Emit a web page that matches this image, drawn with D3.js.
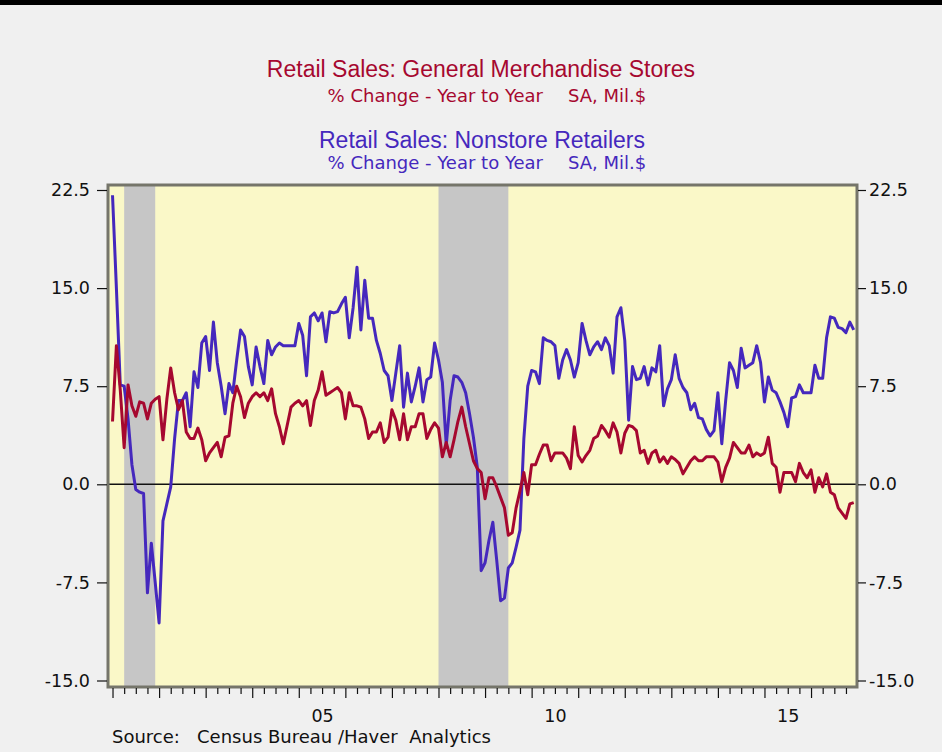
<!DOCTYPE html>
<html>
<head>
<meta charset="utf-8">
<title>Retail Sales: General Merchandise Stores vs Nonstore Retailers</title>
<script src="https://cdnjs.cloudflare.com/ajax/libs/d3/7.8.5/d3.min.js"></script>
<style>
body { margin: 0; background: #F0F0F0; }
.title { font-family: "Liberation Sans", Arial, sans-serif; font-size: 23px; text-anchor: middle; }
.subtitle { font-family: "DejaVu Sans", sans-serif; font-size: 18px; }
.axis text { font-family: "DejaVu Sans", sans-serif; font-size: 17.5px; fill: #111; }
.axis path { display: none; }
.axis line { stroke: #111; stroke-width: 1.2; }
.series { fill: none; stroke-width: 3; stroke-linejoin: round; }
.source { font-family: "DejaVu Sans", sans-serif; font-size: 18px; fill: #111; }
</style>
</head>
<body>
<div id="chart"></div>
<script>
// monthly, Jan 2001 .. Dec 2016, % change year to year
var startYear = 2001;

var generalMerch = [
  4.8, 10.6, 7.2, 2.8, 7.6, 6.0, 5.2, 6.3, 6.2, 5.0, 6.2, 6.5,
  6.7, 3.4, 6.5, 8.9, 7.0, 5.7, 6.4, 4.0, 3.5, 3.5, 4.3, 3.4,
  1.8, 2.4, 2.8, 3.2, 2.1, 3.6, 3.7, 6.2, 7.5, 6.7, 5.1, 6.2,
  6.7, 7.0, 6.7, 7.0, 6.4, 7.3, 5.4, 4.4, 3.1, 4.5, 5.9, 6.2,
  6.4, 6.0, 6.4, 4.5, 6.4, 7.2, 8.6, 6.8, 7.0, 7.2, 7.4, 7.0,
  5.0, 7.0, 6.0, 6.0, 5.9, 5.0, 3.5, 4.0, 4.0, 4.7, 3.2, 3.6,
  5.7, 4.9, 3.4, 5.4, 3.4, 4.4, 4.4, 5.4, 5.4, 3.5, 4.2, 4.7,
  4.3, 2.1, 3.2, 2.1, 3.4, 4.8, 5.9, 4.4, 3.1, 1.8, 1.2, 0.9,
  -1.1, 0.5, 0.5, -0.2, -1.0, -1.8, -3.9, -3.7, -1.8, -0.5, 0.9, -0.8,
  1.5, 1.5, 2.3, 3.0, 3.0, 1.8, 2.4, 2.4, 2.4, 2.0, 1.2, 4.4,
  2.2, 1.7, 2.2, 2.6, 3.5, 3.7, 4.5, 4.1, 3.6, 4.7, 4.0, 2.4,
  3.9, 4.5, 4.4, 4.1, 2.4, 2.6, 1.6, 2.4, 2.6, 1.7, 2.1, 1.6,
  2.1, 1.9, 1.6, 0.8, 1.3, 1.8, 2.1, 1.8, 1.8, 2.1, 2.1, 2.1,
  1.7, 0.2, 1.3, 2.0, 3.2, 2.8, 2.4, 2.4, 3.0, 2.1, 2.4, 2.2,
  2.4, 3.6, 1.6, 1.3, -0.6, 0.9, 0.9, 0.9, 0.2, 1.6, 0.9, 0.5,
  1.1, -0.6, 0.5, -0.2, 0.8, -0.6, -0.8, -1.8, -2.2, -2.6, -1.5, -1.4
];

var nonstore = [
  22.1, 15.0, 7.6, 7.5, 5.0, 1.5, -0.4, -0.6, -0.7, -8.3, -4.5, -7.5,
  -10.6, -2.8, -1.5, -0.2, 3.5, 6.4, 6.4, 7.0, 4.4, 8.6, 7.4, 10.8,
  11.3, 8.7, 12.4, 9.3, 7.5, 5.4, 7.7, 7.0, 9.5, 11.8, 11.3, 9.0,
  7.6, 10.5, 9.0, 7.7, 11.0, 9.9, 10.5, 10.8, 10.6, 10.6, 10.6, 10.6,
  12.3, 11.4, 8.3, 12.8, 13.1, 12.5, 13.1, 10.9, 13.2, 13.1, 13.2, 13.8,
  14.3, 11.2, 13.5, 16.6, 11.8, 15.6, 12.7, 12.7, 11.0, 10.0, 8.7, 8.3,
  6.4, 8.5, 10.6, 5.9, 8.5, 6.3, 7.5, 8.9, 6.3, 8.0, 8.2, 10.8,
  9.5, 7.8, 3.0, 6.4, 8.3, 8.2, 7.8, 7.0, 5.4, 3.6, 1.3, -6.6,
  -6.0, -4.3, -2.9, -5.8, -8.9, -8.7, -6.4, -6.0, -4.8, -3.5, 3.5, 7.5,
  8.7, 8.6, 7.7, 11.2, 11.0, 10.9, 10.6, 8.1, 9.5, 10.3, 9.5, 8.2,
  9.3, 12.3, 11.0, 9.9, 10.5, 10.9, 10.3, 11.2, 10.6, 8.5, 12.8, 13.5,
  11.0, 4.9, 9.0, 8.0, 8.1, 9.0, 7.6, 8.9, 8.6, 10.6, 6.0, 7.3,
  8.0, 9.9, 8.1, 7.4, 7.0, 5.7, 6.2, 5.1, 5.0, 4.2, 3.7, 4.1,
  7.0, 3.1, 6.4, 9.3, 8.7, 7.4, 10.4, 8.9, 9.1, 9.3, 10.6, 9.3,
  6.3, 8.2, 7.2, 7.0, 6.3, 5.5, 4.4, 6.6, 6.7, 7.6, 7.0, 7.0,
  7.0, 9.1, 8.1, 8.1, 11.2, 12.8, 12.7, 12.0, 11.9, 11.6, 12.4, 11.8
];

// recession periods, as fractional years
var recessions = [[2001.25, 2001.917], [2008.0, 2009.5]];

var yTicks = [-15, -7.5, 0, 7.5, 15, 22.5];
var xLabelYears = [2005, 2010, 2015];

var redColor = '#A6082F';
var blueColor = '#4528BD';

var svg = d3.select('#chart')
  .append('svg')
  .attr('width', 942)
  .attr('height', 752);

svg.append('rect')
  .attr('width', 942).attr('height', 752)
  .attr('fill', '#F0F0F0');
svg.append('rect')
  .attr('width', 942).attr('height', 5)
  .attr('fill', '#000');

// titles
svg.append('text').attr('class', 'title')
  .attr('x', 481).attr('y', 77)
  .attr('fill', redColor)
  .text('Retail Sales: General Merchandise Stores');
svg.append('text').attr('class', 'subtitle')
  .attr('x', 543).attr('y', 102).attr('text-anchor', 'end')
  .attr('fill', redColor)
  .text('% Change - Year to Year');
svg.append('text').attr('class', 'subtitle')
  .attr('x', 568).attr('y', 102)
  .attr('fill', redColor)
  .text('SA, Mil.$');

svg.append('text').attr('class', 'title')
  .attr('x', 482).attr('y', 148)
  .attr('fill', blueColor)
  .text('Retail Sales: Nonstore Retailers');
svg.append('text').attr('class', 'subtitle')
  .attr('x', 543).attr('y', 169).attr('text-anchor', 'end')
  .attr('fill', blueColor)
  .text('% Change - Year to Year');
svg.append('text').attr('class', 'subtitle')
  .attr('x', 568).attr('y', 169)
  .attr('fill', blueColor)
  .text('SA, Mil.$');

// plot box (window.top is reserved, hence the names)
var plotLeft = 108, plotRight = 857, plotTop = 185, plotBottom = 687;

var x = d3.scaleLinear()
  .domain([2000.903, 2016.987])
  .range([plotLeft, plotRight]);

var y = d3.scaleLinear()
  .domain([-15, 22.5])
  .range([680.5, 190]);

var g = svg.append('g');

g.append('rect')
  .attr('x', plotLeft).attr('y', plotTop)
  .attr('width', plotRight - plotLeft).attr('height', plotBottom - plotTop)
  .attr('fill', '#FAF8C8');

g.selectAll('.recession')
  .data(recessions)
  .enter().append('rect')
  .attr('class', 'recession')
  .attr('x', d => x(d[0]))
  .attr('y', plotTop)
  .attr('width', d => x(d[1]) - x(d[0]))
  .attr('height', plotBottom - plotTop)
  .attr('fill', '#C6C6C6');

g.append('line')
  .attr('x1', plotLeft).attr('x2', plotRight)
  .attr('y1', y(0)).attr('y2', y(0))
  .attr('stroke', '#111').attr('stroke-width', 1.6);

var line = d3.line()
  .x((d, i) => x(startYear + i / 12))
  .y(d => y(d));

g.append('path')
  .datum(nonstore)
  .attr('class', 'series')
  .attr('stroke', blueColor)
  .attr('d', line);

g.append('path')
  .datum(generalMerch)
  .attr('class', 'series')
  .attr('stroke', redColor)
  .attr('d', line);

// frame
g.append('rect')
  .attr('x', plotLeft).attr('y', plotTop)
  .attr('width', plotRight - plotLeft).attr('height', plotBottom - plotTop)
  .attr('fill', 'none')
  .attr('stroke', '#75756A')
  .attr('stroke-width', 3);

// y axes, plain hyphen for negatives
var fmt = d => d3.format('.1f')(d).replace('\u2212', '-');
svg.append('g')
  .attr('class', 'axis')
  .attr('transform', 'translate(' + (plotLeft - 1) + ',0)')
  .call(d3.axisLeft(y).tickValues(yTicks).tickFormat(fmt).tickSize(10).tickPadding(7));

svg.append('g')
  .attr('class', 'axis')
  .attr('transform', 'translate(' + (plotRight + 1) + ',0)')
  .call(d3.axisRight(y).tickValues(yTicks).tickFormat(fmt).tickSize(8).tickPadding(3));

// x axis: quarter ticks, year ticks, labels at mid-year
var years = d3.range(2001, 2017);
var quarters = [];
years.forEach(yr => { quarters.push(yr + 0.25, yr + 0.5, yr + 0.75); });

svg.append('g')
  .attr('class', 'axis')
  .attr('transform', 'translate(0,' + (plotBottom + 1) + ')')
  .call(d3.axisBottom(x).tickValues(quarters).tickSize(6).tickFormat(''));

svg.append('g')
  .attr('class', 'axis')
  .attr('transform', 'translate(0,' + (plotBottom + 1) + ')')
  .call(d3.axisBottom(x).tickValues(years).tickSize(10).tickFormat(''));

svg.append('g')
  .attr('class', 'axis')
  .attr('transform', 'translate(0,' + plotBottom + ')')
  .call(d3.axisBottom(x)
    .tickValues(xLabelYears.map(yr => yr + 0.5))
    .tickSize(0).tickPadding(23)
    .tickFormat(d => String(Math.floor(d) % 100).padStart(2, '0')));

svg.append('text')
  .attr('class', 'source')
  .attr('x', 112).attr('y', 743)
  .attr('xml:space', 'preserve')
  .style('white-space', 'pre')
  .text('Source:   Census Bureau /Haver  Analytics');
</script>
</body>
</html>
